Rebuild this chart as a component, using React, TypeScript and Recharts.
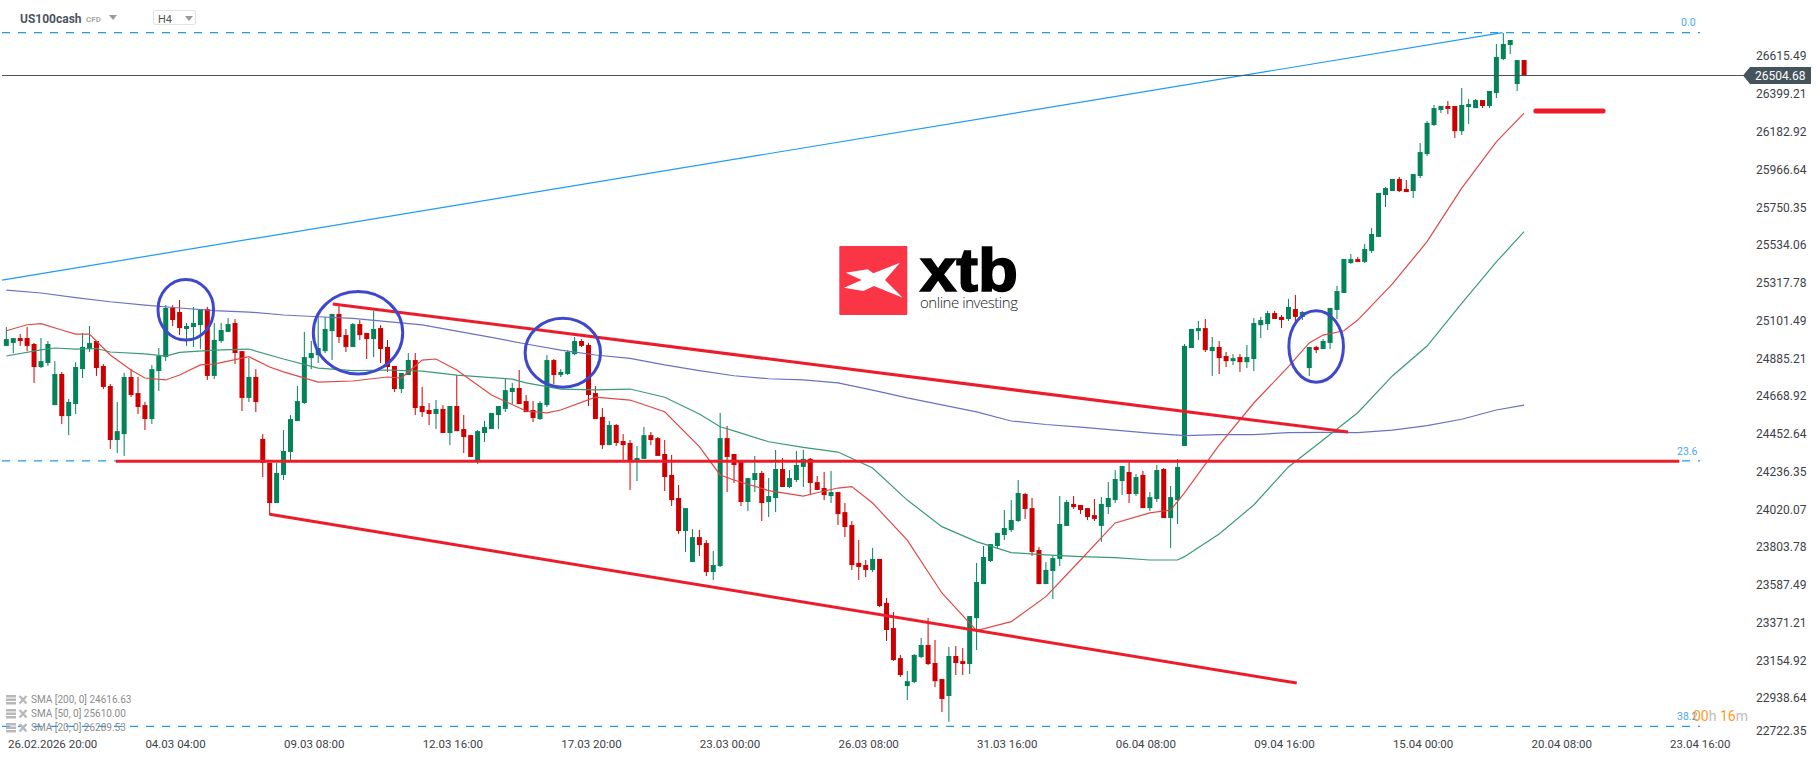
import React from "react";
import {
  ComposedChart,
  Bar,
  Line,
  XAxis,
  YAxis,
  ReferenceLine,
  ReferenceDot,
} from "recharts";

const FONT = 'Roboto, "Noto Sans", sans-serif';
const GREEN = "#04825a";
const RED = "#cc0000";
const TREND_RED = "#ee1c2a";
const FIB_BLUE = "#1e9bf5";
const CIRCLE_BLUE = "#3f48cc";

/* ── Candles, H4 bars ───────────────────────────────────────────────── */

const opens = [
  24956, 24973, 25001, 25001, 24967, 24835, 24858, 24617, 24795, 24554,
  24623, 24823, 24938, 24984, 24841, 24726, 24417, 24451, 24778, 24686,
  24617, 24537, 24812, 24892, 25173, 25150, 25053, 25064, 25075, 25167,
  24784, 24984, 25036, 25087, 24926, 24658, 24778, 24423, 24286, 24056,
  24217, 24349, 24526, 24629, 24886, 24903, 24926, 25041, 25139, 25018,
  24950, 25081, 25030, 24995, 25058, 24950, 24841, 24709, 24789, 24875,
  24612, 24589, 24566, 24595, 24457, 24612, 24480, 24445, 24291, 24457,
  24480, 24560, 24595, 24692, 24715, 24640, 24589, 24537, 24617, 24875,
  24789, 24795, 24909, 24984, 24961, 24686, 24549, 24388, 24503, 24411,
  24400, 24297, 24309, 24445, 24428, 24337, 24217, 24085, 23896, 23718,
  23861, 23827, 23661, 23695, 24428, 24337, 24291, 24062, 24188, 24228,
  24062, 24085, 24251, 24148, 24188, 24263, 24309, 24176, 24142, 24096,
  24119, 24004, 23930, 23713, 23701, 23673, 23736, 23484, 23340, 23168,
  23008, 23031, 23174, 23243, 23140, 23048, 22951, 23180, 23151, 23134,
  23397, 23592, 23724, 23810, 23873, 23902, 23953, 24108, 24027, 23787,
  23592, 23667, 23736, 23925, 24051, 24045, 24027, 23987, 23925, 24033,
  24073, 24182, 24234, 24108, 24217, 24027, 24079, 24251, 23970, 24073,
  24383, 24944, 25041, 25058, 24926, 24950, 24898, 24869, 24892, 24863,
  24881, 25075, 25081, 25144, 25122, 25110, 25167, 25122, 24829, 24950,
  24938, 24973, 25162, 25259, 25431, 25453, 25437, 25500, 25580, 25820,
  25843, 25912, 25855, 25843, 25929, 26055, 26221, 26307, 26330, 26330,
  26186, 26324, 26318, 26364, 26330, 26404, 26599, 26679, 26456, 26593,
];

const closes = [
  24995, 25001, 24984, 24956, 24835, 24869, 24967, 24795, 24554, 24635,
  24835, 24950, 24973, 24829, 24721, 24417, 24468, 24778, 24675, 24606,
  24537, 24823, 24898, 25173, 25104, 25058, 25070, 25087, 25167, 24784,
  24990, 25047, 25081, 24915, 24658, 24778, 24635, 24286, 24056, 24228,
  24354, 24537, 24640, 24892, 24915, 24944, 25053, 25139, 25007, 24950,
  25081, 25018, 24995, 25053, 24938, 24835, 24709, 24801, 24875, 24600,
  24577, 24566, 24595, 24457, 24612, 24468, 24434, 24320, 24468, 24492,
  24572, 24612, 24703, 24715, 24623, 24577, 24543, 24629, 24875, 24789,
  24807, 24921, 24984, 24956, 24675, 24537, 24388, 24503, 24400, 24388,
  24297, 24314, 24445, 24417, 24326, 24205, 24073, 23896, 24027, 23861,
  23815, 23661, 23701, 24428, 24320, 24274, 24062, 24199, 24228, 24056,
  24096, 24251, 24148, 24199, 24274, 24309, 24171, 24131, 24102, 24119,
  23993, 23919, 23701, 23690, 23673, 23736, 23466, 23329, 23157, 23071,
  23036, 23186, 23243, 23134, 23036, 22934, 23180, 23140, 23134, 23409,
  23604, 23747, 23821, 23885, 23913, 23959, 24114, 24022, 23776, 23592,
  23673, 23741, 23936, 24062, 24033, 24016, 23976, 23965, 24051, 24085,
  24194, 24268, 24108, 24205, 24027, 24090, 24245, 23970, 24090, 24263,
  24956, 25053, 25058, 24932, 24950, 24886, 24869, 24886, 24863, 24892,
  25087, 25104, 25144, 25110, 25104, 25179, 25122, 25150, 24950, 24932,
  24984, 25173, 25270, 25454, 25453, 25437, 25511, 25597, 25832, 25860,
  25912, 25843, 25837, 25940, 26066, 26233, 26318, 26330, 26313, 26186,
  26336, 26341, 26364, 26330, 26416, 26611, 26685, 26708, 26593, 26504.68,
];

const highs = [
  25064, 25001, 25024, 25064, 24973, 25001, 24984, 24869, 24807, 24652,
  24863, 25030, 25070, 24984, 24852, 24738, 24635, 24801, 24823, 24778,
  24635, 24846, 24944, 25190, 25190, 25219, 25087, 25179, 25167, 25179,
  25087, 25087, 25115, 25110, 24926, 24886, 24823, 24451, 24286, 24286,
  24474, 24560, 24726, 25036, 24984, 25122, 25122, 25139, 25185, 25053,
  25087, 25104, 25030, 25156, 25075, 24990, 24841, 24801, 24915, 24915,
  24721, 24629, 24646, 24617, 24612, 24789, 24560, 24445, 24474, 24526,
  24572, 24612, 24766, 24744, 24818, 24675, 24640, 24640, 24903, 24881,
  24823, 24932, 25007, 24995, 24973, 24726, 24600, 24526, 24509, 24451,
  24417, 24383, 24492, 24463, 24434, 24417, 24332, 24159, 24027, 23907,
  23902, 23844, 23781, 24572, 24497, 24337, 24291, 24199, 24326, 24240,
  24199, 24360, 24314, 24245, 24354, 24360, 24314, 24211, 24234, 24240,
  24119, 24056, 23953, 23844, 23730, 23799, 23736, 23512, 23432, 23186,
  23094, 23191, 23283, 23398, 23272, 23048, 23232, 23237, 23226, 23409,
  23713, 23810, 23821, 23885, 24016, 24073, 24188, 24114, 24085, 23804,
  23718, 23753, 24096, 24073, 24096, 24045, 24027, 24079, 24091, 24176,
  24245, 24268, 24291, 24222, 24240, 24119, 24274, 24257, 24154, 24309,
  24967, 25053, 25099, 25110, 25007, 24984, 24921, 24909, 24909, 24961,
  25115, 25122, 25156, 25156, 25133, 25225, 25248, 25156, 24950, 24956,
  24995, 25173, 25299, 25454, 25482, 25465, 25540, 25631, 25832, 25866,
  25912, 25923, 25906, 25940, 26118, 26244, 26336, 26330, 26358, 26330,
  26433, 26370, 26370, 26364, 26416, 26685, 26748, 26708, 26593, 26593,
];

const lows = [
  24956, 24915, 24956, 24926, 24744, 24829, 24841, 24617, 24509, 24445,
  24566, 24772, 24921, 24784, 24709, 24366, 24343, 24326, 24663, 24566,
  24474, 24509, 24698, 24869, 25070, 25018, 24956, 24950, 24938, 24761,
  24766, 24973, 25036, 24852, 24583, 24635, 24577, 24205, 23987, 24056,
  24188, 24303, 24526, 24623, 24823, 24858, 24915, 24875, 24973, 24921,
  24950, 24990, 24881, 24892, 24858, 24807, 24692, 24686, 24789, 24560,
  24549, 24503, 24480, 24457, 24388, 24468, 24343, 24320, 24280, 24406,
  24480, 24480, 24577, 24623, 24623, 24577, 24520, 24532, 24606, 24738,
  24778, 24789, 24903, 24950, 24612, 24537, 24366, 24388, 24383, 24303,
  24131, 24182, 24309, 24388, 24326, 24125, 24039, 23879, 23776, 23718,
  23753, 23638, 23615, 23690, 24119, 24171, 24039, 24010, 24119, 23953,
  23976, 24004, 24148, 24142, 24176, 24148, 24108, 24131, 24073, 24056,
  23930, 23861, 23673, 23615, 23632, 23661, 23460, 23266, 23151, 23060,
  22928, 23025, 23168, 23128, 23002, 22859, 22803, 23071, 23071, 23077,
  23214, 23592, 23718, 23793, 23844, 23890, 23948, 23965, 23753, 23592,
  23592, 23506, 23695, 23925, 24022, 23993, 23959, 23953, 23833, 23993,
  24056, 24102, 24056, 24096, 24027, 24010, 24062, 23970, 23799, 23936,
  24383, 24944, 24990, 24921, 24784, 24795, 24835, 24846, 24807, 24829,
  24812, 25001, 25047, 25110, 25058, 25099, 25081, 25104, 24784, 24915,
  24938, 24938, 25110, 25259, 25425, 25437, 25431, 25488, 25580, 25751,
  25843, 25837, 25837, 25803, 25917, 26043, 26215, 26290, 26284, 26147,
  26164, 26227, 26318, 26318, 26318, 26376, 26593, 26628, 26416, 26504.68,
];

/* ── Moving averages, read at every 5th bar and at their kinks ──────── */

const sma200Bars = [
  0, 5, 10, 15, 20, 25, 30, 35, 40, 45, 50, 55, 60, 65, 70, 75, 80, 85, 90, 95,
  100, 105, 110, 115, 120, 125, 130, 135, 140, 145, 150, 155, 160, 165, 170,
  175, 180, 185, 190, 195, 200, 205, 210, 215, 219,
];

const sma200 = [
  25276, 25259, 25233, 25209, 25190, 25173, 25158, 25150, 25133, 25123, 25114,
  25095, 25076, 25041, 25005, 24967, 24932, 24904, 24885, 24847, 24814, 24785,
  24768, 24761, 24744, 24703, 24658, 24618, 24578, 24526, 24506, 24491, 24474,
  24457, 24442, 24448, 24448, 24459, 24461, 24459, 24474, 24499, 24536, 24589,
  24616.63,
];

const sma50Bars = [
  0, 5, 7, 10, 13, 15, 20, 23, 25, 30, 35, 40, 45, 50, 55, 60, 65, 70, 73, 75,
  80, 85, 90, 95, 100, 103, 105, 110, 115, 120, 125, 130, 135, 140, 145, 150,
  155, 160, 165, 169, 170, 175, 180, 185, 190, 195, 200, 205, 210, 215, 219,
];

const sma50 = [
  24898, 24933, 24944, 24938, 24941, 24921, 24910, 24898, 24919, 24932, 24938,
  24881, 24829, 24814, 24818, 24812, 24789, 24774, 24766, 24744, 24708, 24704,
  24709, 24662, 24566, 24493, 24469, 24407, 24375, 24348, 24257, 24073, 23921,
  23835, 23772, 23759, 23749, 23743, 23730, 23730, 23749, 23879, 24045, 24263,
  24417, 24573, 24784, 24955, 25200, 25437, 25610,
];

const sma20Bars = [
  0, 3, 5, 8, 10, 12, 15, 18, 20, 23, 25, 28, 30, 35, 38, 40, 45, 50, 55, 57,
  60, 62, 65, 70, 75, 78, 80, 85, 90, 95, 100, 103, 105, 110, 115, 117, 120,
  122, 125, 130, 135, 140, 145, 150, 155, 160, 165, 168, 170, 175, 180, 185,
  188, 190, 193, 195, 200, 205, 210, 215, 219,
];

const sma20 = [
  25043, 25077, 25084, 25047, 25024, 25024, 24904, 24818, 24772, 24761, 24789,
  24847, 24852, 24894, 24835, 24807, 24749, 24755, 24778, 24772, 24875, 24881,
  24818, 24675, 24583, 24572, 24589, 24663, 24646, 24579, 24379, 24217, 24188,
  24127, 24096, 24115, 24142, 24150, 24056, 23844, 23541, 23325, 23377, 23520,
  23730, 23942, 24000, 24016, 24114, 24388, 24629, 24837, 24973, 25018, 25043,
  25104, 25311, 25553, 25860, 26125, 26289.53,
];

/* ── Axes ───────────────────────────────────────────────────────────── */

const LAST_PRICE = 26504.68;

const priceTicks = [
  26615.49, 26399.21, 26182.92, 25966.64, 25750.35, 25534.06, 25317.78,
  25101.49, 24885.21, 24668.92, 24452.64, 24236.35, 24020.07, 23803.78,
  23587.49, 23371.21, 23154.92, 22938.64, 22722.35, LAST_PRICE,
];

const timeTicks = [4.43, 24.43, 44.43, 64.43, 84.43, 104.43, 124.43, 144.43, 164.43, 184.43, 204.43, 224.43, 244.43];
const timeLabels = [
  "26.02.2026 20:00", "04.03 04:00", "09.03 08:00", "12.03 16:00", "17.03 20:00",
  "23.03 00:00", "26.03 08:00", "31.03 16:00", "06.04 08:00", "09.04 16:00",
  "15.04 00:00", "20.04 08:00", "23.04 16:00",
];

/* ── Drawings on the chart ──────────────────────────────────────────── */

const X_MIN = -0.62;
const X_MAX = 251.6;
const FIB_END = 244.4;
const fibLevels = [26750, 24297, 22777];
const legendRows = ["SMA [200, 0] 24616.63", "SMA [50, 0] 25610.00", "SMA [20, 0] 26289.53"];

const trendLines = [
  { from: [47.1, 25196], to: [193.6, 24463] },
  { from: [38, 23992], to: [186.2, 23025] },
  { from: [15.8, 24295], to: [241.4, 24295] },
];

const circles = [
  { bar: 25.9, price: 25163, rx: 27.8, ry: 30.3 },
  { bar: 50.75, price: 25031, rx: 44.7, ry: 41.2 },
  { bar: 80.3, price: 24917, rx: 37.7, ry: 34.5 },
  { bar: 189, price: 24953, rx: 27.3, ry: 35.8 },
];

function pick(bars: number[], values: number[], i: number) {
  const k = bars.indexOf(i);
  return k < 0 ? null : values[k];
}

const chartData = opens.map((open, i) => ({
  i,
  open,
  close: closes[i],
  high: highs[i],
  low: lows[i],
  range: [lows[i], highs[i]],
  sma200: pick(sma200Bars, sma200, i),
  sma50: pick(sma50Bars, sma50, i),
  sma20: pick(sma20Bars, sma20, i),
}));

function Candle(props: any) {
  const { x, y, width, height, payload } = props;
  const { open, close, high, low } = payload;
  const cx = x + width / 2;
  const pxPerPrice = Math.abs(height) / (high - low || 1);
  const top = y + (high - Math.max(open, close)) * pxPerPrice;
  const bodyH = Math.max(Math.abs(open - close) * pxPerPrice, 1);
  const color = close >= open ? GREEN : RED;
  return (
    <g>
      <line x1={cx} x2={cx} y1={y} y2={y + Math.abs(height)} stroke={color} strokeWidth={1} />
      <rect x={cx - 2.5} y={top} width={5} height={bodyH} fill={color} />
    </g>
  );
}

function PriceTick(props: any) {
  const { x, y, payload } = props;
  if (payload.value === LAST_PRICE) {
    return (
      <g>
        <polygon
          points={`${x - 13},${y} ${x - 6},${y - 8.5} ${x + 55},${y - 8.5} ${x + 55},${y + 8.5} ${x - 6},${y + 8.5}`}
          fill="#46545e"
        />
        <text x={x - 1} y={y + 4.3} fontSize={12} fontFamily={FONT} fill="#fff">
          26504.68
        </text>
      </g>
    );
  }
  // the bottom label is pushed up so it stays above the time axis
  const shift = payload.value === 22722.35 ? -5 : 0;
  return (
    <text x={x} y={y + 4.3 + shift} fontSize={12} fontFamily={FONT} fill="#3d4248">
      {payload.value.toFixed(2)}
    </text>
  );
}

function TimeTick(props: any) {
  const { x, y, payload, index } = props;
  // first label is clamped to the left edge of the canvas
  const shift = index === 0 ? 15.7 : 0;
  return (
    <text x={x + shift} y={y} textAnchor="middle" fontSize={11.5} fontFamily={FONT} fill="#3d4248">
      {timeLabels[index] ?? payload.value}
    </text>
  );
}

function Overlay({ left, top, children, style }: any) {
  return (
    <div style={{ position: "absolute", left, top, whiteSpace: "nowrap", fontFamily: FONT, lineHeight: 1, ...style }}>
      {children}
    </div>
  );
}

function Logo() {
  return (
    <svg style={{ position: "absolute", left: 830, top: 220 }} width={200} height={120}>
      <rect x={9.3} y={26} width={68} height={69} rx={1} fill="#f93546" />
      <polygon
        points="15.7,52.7 37.7,49.3 43.3,53.3 70,42.7 55,60 72.7,77.7 44,66 33.3,71 14,67.7 31.7,60"
        fill="#fff"
      />
      <text x={90} y={70.5} fontSize={61} fontWeight={700} fontFamily='"Liberation Sans", sans-serif' textLength={98} lengthAdjust="spacingAndGlyphs" stroke="#000" strokeWidth={1.6}>
        xtb
      </text>
      <text x={90} y={88} fontSize={15} fontFamily='"Open Sans", sans-serif' fontWeight={300} textLength={98} fill="#222">
        online investing
      </text>
    </svg>
  );
}

function LegendIcon() {
  return (
    <svg width={22} height={10} style={{ marginRight: 3 }}>
      <rect x={0} y={0} width={10} height={2.5} fill="#b8b8b8" />
      <rect x={0} y={3.5} width={10} height={2.5} fill="#b8b8b8" />
      <rect x={0} y={7} width={10} height={2.5} fill="#b8b8b8" />
      <path d="M13.5 1 L20.5 8.5 M20.5 1 L13.5 8.5" stroke="#b8b8b8" strokeWidth={2.4} />
    </svg>
  );
}

export default function App() {
  return (
    <div style={{ position: "absolute", left: 0, top: 0, width: 1816, height: 761, overflow: "hidden", background: "#fff" }}>
      <ComposedChart
        width={1816}
        height={761}
        data={chartData}
        margin={{ top: 0, right: 0, bottom: 0, left: 2 }}
      >
        <XAxis
          type="number"
          dataKey="i"
          domain={[X_MIN, X_MAX]}
          allowDataOverflow
          ticks={timeTicks}
          interval={0}
          height={21}
          axisLine={false}
          tickLine={false}
          tick={<TimeTick />}
          tickSize={0}
          tickMargin={8}
        />
        <YAxis
          orientation="right"
          type="number"
          domain={[22699, 26937]}
          allowDataOverflow
          ticks={priceTicks}
          interval={0}
          width={66}
          axisLine={false}
          tickLine={false}
          tick={<PriceTick />}
          tickSize={0}
          tickMargin={6}
        />

        {fibLevels.map((p) => (
          <ReferenceLine
            key={p}
            segment={[{ x: X_MIN, y: p }, { x: FIB_END, y: p }]}
            stroke={FIB_BLUE}
            strokeWidth={1.2}
            strokeDasharray="8 8"
          />
        ))}
        <ReferenceLine
          segment={[{ x: X_MIN, y: 25333 }, { x: 215.9, y: 26750 }]}
          stroke={FIB_BLUE}
          strokeWidth={1.2}
        />
        <ReferenceLine y={LAST_PRICE} stroke="#4a5058" strokeWidth={1} />

        <Bar dataKey="range" shape={<Candle />} barSize={5} isAnimationActive={false} />

        <Line dataKey="sma200" stroke="#6a72c2" strokeWidth={1.2} dot={false} connectNulls isAnimationActive={false} />
        <Line dataKey="sma50" stroke="#3a9a78" strokeWidth={1.2} dot={false} connectNulls isAnimationActive={false} />
        <Line dataKey="sma20" stroke="#e04848" strokeWidth={1.2} dot={false} connectNulls isAnimationActive={false} />

        {trendLines.map((t) => (
          <ReferenceLine
            key={t.from[0]}
            segment={[{ x: t.from[0], y: t.from[1] }, { x: t.to[0], y: t.to[1] }]}
            stroke={TREND_RED}
            strokeWidth={3}
          />
        ))}
        <ReferenceLine
          segment={[{ x: 220.7, y: 26301 }, { x: 230.4, y: 26301 }]}
          stroke={TREND_RED}
          strokeWidth={5}
          strokeLinecap="round"
        />
        {circles.map((c) => (
          <ReferenceDot
            key={c.bar}
            x={c.bar}
            y={c.price}
            r={1}
            shape={(p: any) => (
              <ellipse cx={p.cx} cy={p.cy} rx={c.rx} ry={c.ry} fill="none" stroke={CIRCLE_BLUE} strokeWidth={3} />
            )}
          />
        ))}
      </ComposedChart>

      {/* Instrument header */}
      <Overlay left={20} top={13} style={{ fontSize: 12, fontWeight: 700, color: "#4b5560" }}>US100cash</Overlay>
      <Overlay left={86} top={15.5} style={{ fontSize: 8, fontWeight: 700, color: "#a8a8a8" }}>CFD</Overlay>
      <svg style={{ position: "absolute", left: 108, top: 14 }} width={10} height={7}>
        <polygon points="1,1 9,1 5,6" fill="#999" />
      </svg>
      <div style={{ position: "absolute", left: 153, top: 10, width: 43, height: 15, border: "1px solid #e2e2e2", borderRadius: 2, boxSizing: "border-box" }} />
      <Overlay left={158} top={14} style={{ fontSize: 11, color: "#555" }}>H4</Overlay>
      <svg style={{ position: "absolute", left: 184, top: 15 }} width={10} height={7}>
        <polygon points="1,1 9,1 5,6" fill="#999" />
      </svg>

      {/* Fibonacci labels */}
      <Overlay left={1681} top={18} style={{ fontSize: 10.5, color: "#4aa8f0" }}>0.0</Overlay>
      <Overlay left={1677} top={447} style={{ fontSize: 10.5, color: "#4aa8f0" }}>23.6</Overlay>
      <Overlay left={1677} top={712} style={{ fontSize: 10.5, color: "#4aa8f0" }}>38.2</Overlay>

      {/* Candle countdown */}
      <Overlay left={1693} top={709} style={{ fontSize: 14 }}>
        <span style={{ color: "#ff9a1f" }}>00</span>
        <span style={{ color: "#bdbdbd" }}>h </span>
        <span style={{ color: "#ff9a1f" }}>16</span>
        <span style={{ color: "#bdbdbd" }}>m</span>
      </Overlay>

      {/* Indicator legend */}
      {legendRows.map((row, k) => (
        <Overlay key={row} left={6} top={695 + k * 14} style={{ fontSize: 10, color: "#8c8c8c", display: "flex", alignItems: "center" }}>
          <LegendIcon />
          {row}
        </Overlay>
      ))}

      <Logo />
    </div>
  );
}
